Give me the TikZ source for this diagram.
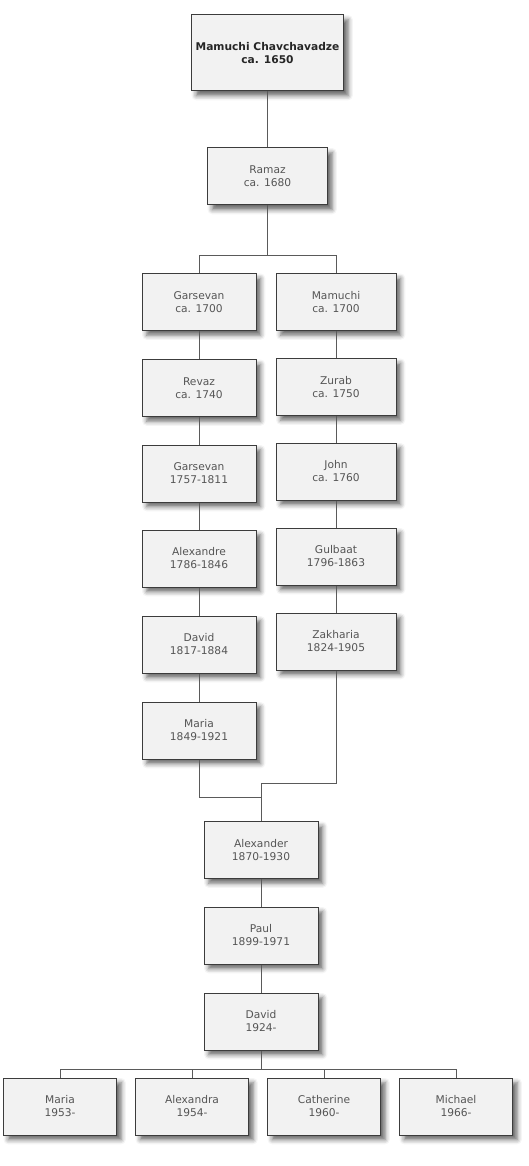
\documentclass[tikz,border=0pt]{standalone}
\usepackage{fontspec}
\setmainfont{DejaVu Sans}
\usetikzlibrary{shadows.blur}

\definecolor{boxfill}{RGB}{242,242,242}
\definecolor{boxline}{RGB}{60,60,60}
\definecolor{linkline}{RGB}{90,90,90}
\definecolor{nametext}{RGB}{85,85,85}

\tikzset{every picture/.style={line width=0.75pt}}
\tikzset{
  person/.style={draw=boxline, fill=boxfill, text=nametext, align=center,
    inner sep=0pt, minimum width=85.5pt, minimum height=42.75pt,
    font=\fontsize{8}{9.75}\selectfont,
    blur shadow={shadow xshift=3.5pt, shadow yshift=-3.5pt, shadow blur radius=3.5pt, shadow opacity=60}},
  wide/.style={minimum width=90pt},
  link/.style={draw=linkline, line width=0.75pt}
}

\begin{document}
\begin{tikzpicture}[x=0.75pt,y=0.75pt,yscale=-1,xscale=1]
\useasboundingbox (0,0) rectangle (528,1166);

% Root
\node [person, minimum width=114pt, minimum height=57pt, text=black!85, font=\bfseries\fontsize{8}{9.75}\selectfont] (mamuchi0) at (267.5,53) {Mamuchi Chavchavadze\\ca. 1650};
\node [person, wide] (ramaz) at (267.5,176.5) {Ramaz\\ca. 1680};

% Left branch
\node [person] (garsevan1) at (199,302) {Garsevan\\ca. 1700};
\node [person] (revaz) at (199,388) {Revaz\\ca. 1740};
\node [person] (garsevan2) at (199,473.5) {Garsevan\\1757-1811};
\node [person] (alexandre) at (199,558.5) {Alexandre\\1786-1846};
\node [person] (david1) at (199,644.5) {David\\1817-1884};
\node [person] (maria1) at (199,730.5) {Maria\\1849-1921};

% Right branch
\node [person, wide] (mamuchi1) at (336,302) {Mamuchi\\ca. 1700};
\node [person, wide] (zurab) at (336,387) {Zurab\\ca. 1750};
\node [person, wide] (john) at (336,471.5) {John\\ca. 1760};
\node [person, wide] (gulbaat) at (336,556.5) {Gulbaat\\1796-1863};
\node [person, wide] (zakharia) at (336,641.5) {Zakharia\\1824-1905};

% Merged line
\node [person] (alexander) at (261,850) {Alexander\\1870-1930};
\node [person] (paul) at (261,935.5) {Paul\\1899-1971};
\node [person] (david2) at (261,1021.5) {David\\1924-};

% Children
\node [person, minimum width=84.75pt] (maria2) at (60,1106.5) {Maria\\1953-};
\node [person, minimum width=84.75pt] (alexandra) at (192,1106.5) {Alexandra\\1954-};
\node [person, minimum width=84.75pt] (catherine) at (324,1106.5) {Catherine\\1960-};
\node [person, minimum width=84.75pt] (michael) at (456,1106.5) {Michael\\1966-};

% Junction points
\coordinate (split1) at (267.5,255.5);
\coordinate (joinR) at (261,783);
\coordinate (joinL) at (261,797);
\coordinate (split2) at (261,1069);

% Connectors
\draw [link] (mamuchi0) -- (ramaz);
\draw [link] (ramaz) -- (split1);
\draw [link] (garsevan1.north) |- (split1) -| (mamuchi1.north);

\draw [link] (garsevan1) -- (revaz);
\draw [link] (revaz) -- (garsevan2);
\draw [link] (garsevan2) -- (alexandre);
\draw [link] (alexandre) -- (david1);
\draw [link] (david1) -- (maria1);

\draw [link] (mamuchi1) -- (zurab);
\draw [link] (zurab) -- (john);
\draw [link] (john) -- (gulbaat);
\draw [link] (gulbaat) -- (zakharia);

\draw [link] (zakharia.south) |- (joinR) -- (alexander.north);
\draw [link] (maria1.south) |- (joinL);

\draw [link] (alexander) -- (paul);
\draw [link] (paul) -- (david2);
\draw [link] (david2) -- (split2);
\draw [link] (maria2.north) |- (split2) -| (michael.north);
\draw [link] (alexandra.north) -- (alexandra.north |- split2);
\draw [link] (catherine.north) -- (catherine.north |- split2);

\end{tikzpicture}
\end{document}
